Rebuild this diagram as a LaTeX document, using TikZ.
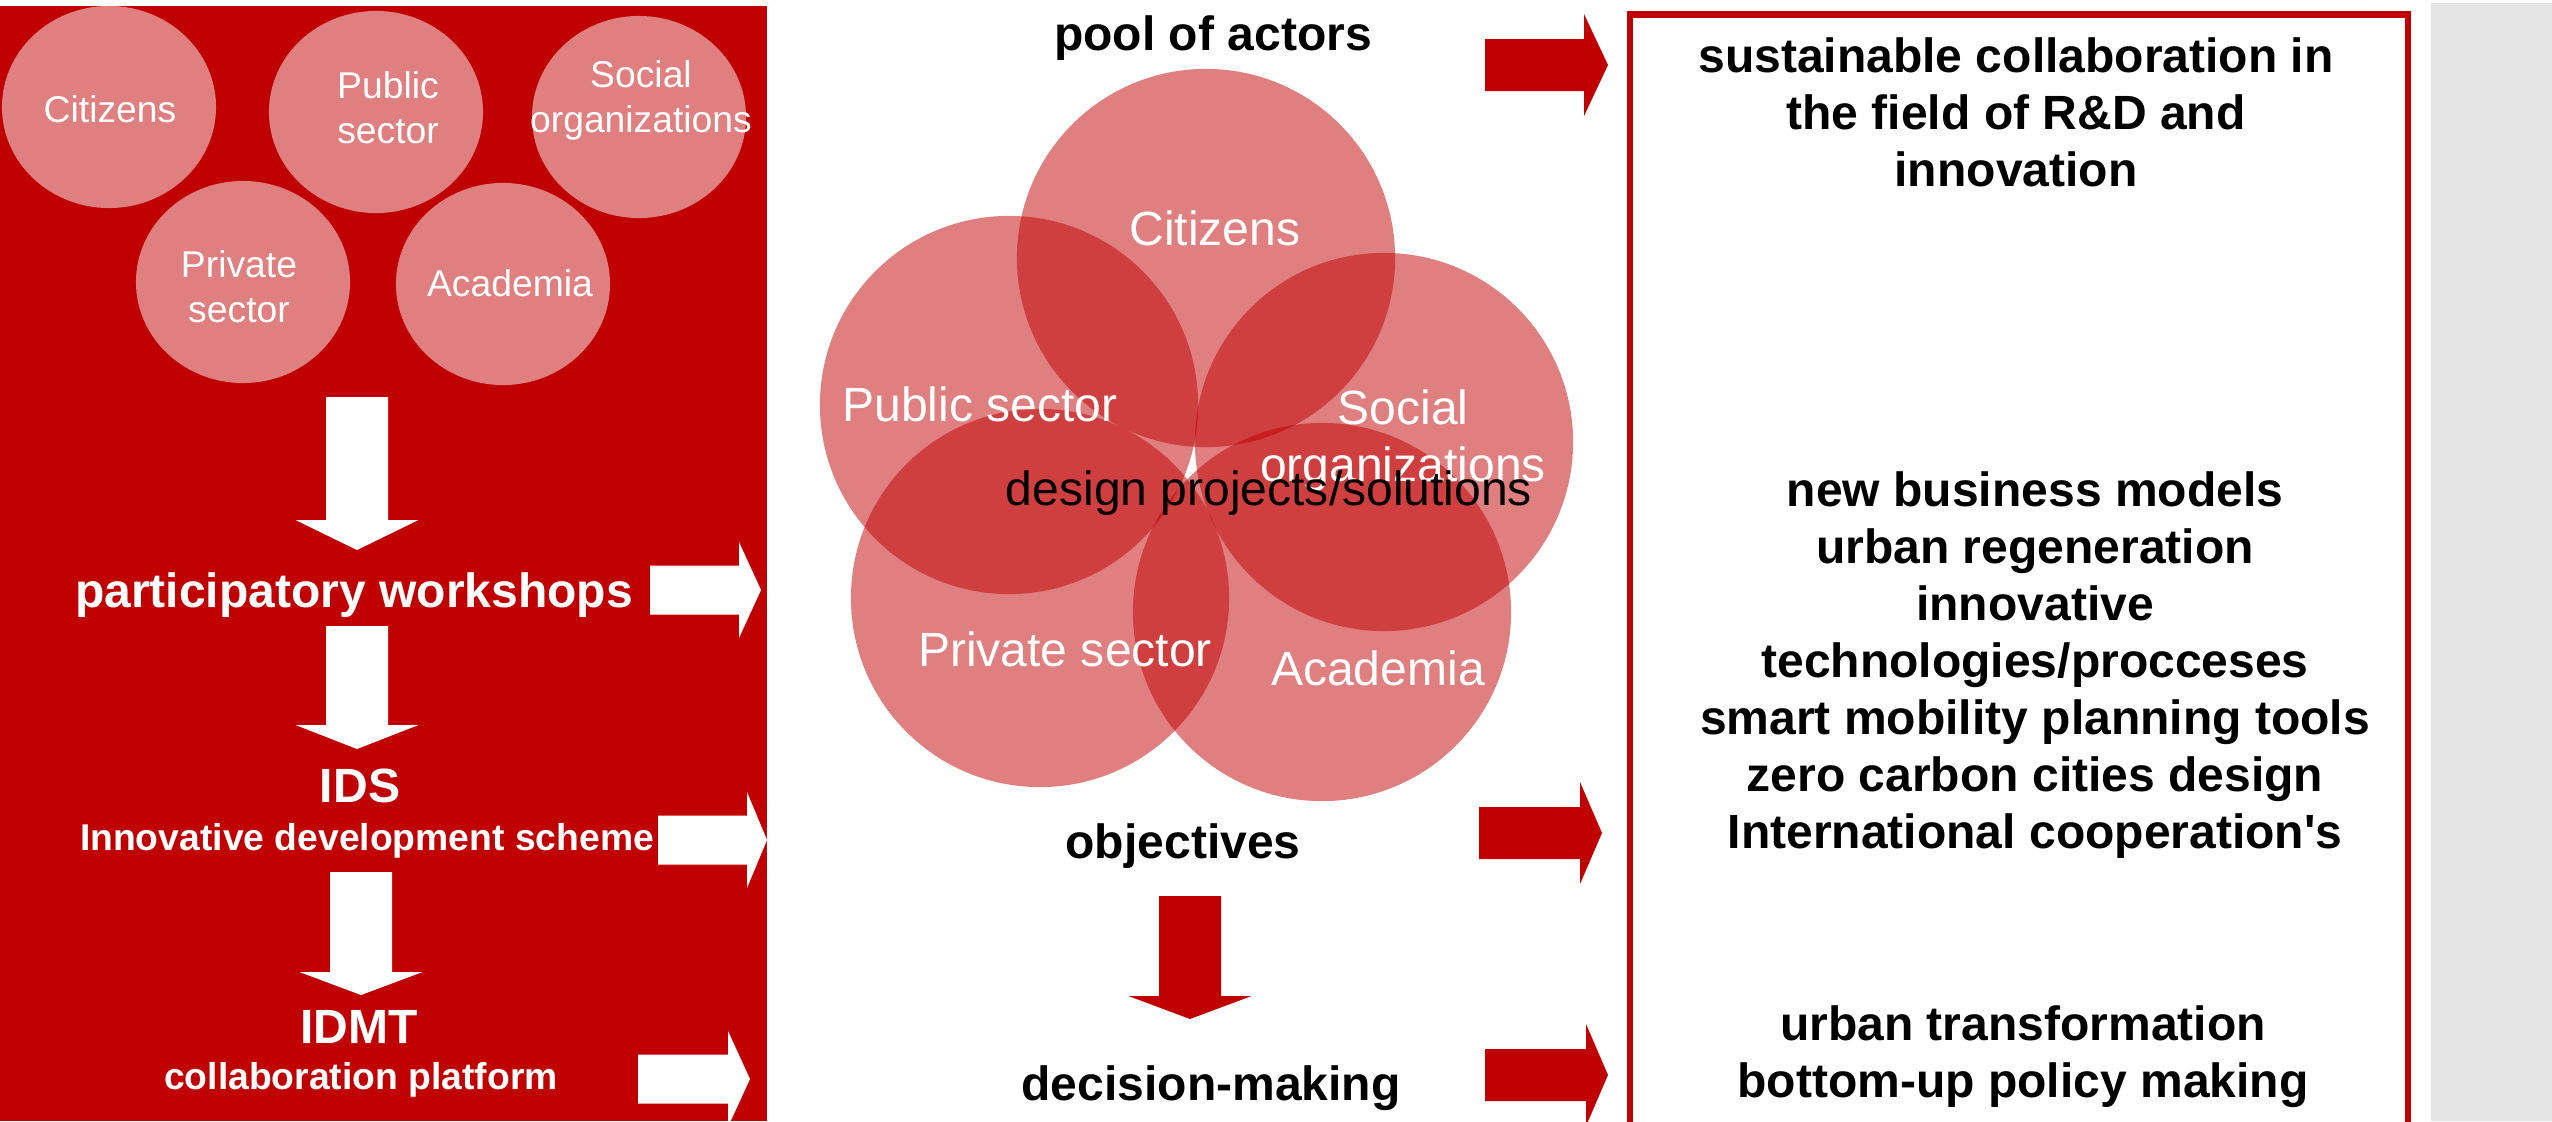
\documentclass[tikz,border=0pt]{standalone}
\usepackage{fontspec}
\setmainfont{Liberation Sans}[Ligatures=TeXOff]
\usetikzlibrary{shapes.geometric}
\definecolor{mainred}{HTML}{C00000}
\definecolor{softpink}{HTML}{DF7F7F}
\definecolor{stripgray}{HTML}{E4E4E4}
\newcommand{\fbig}{\fontsize{13.66pt}{16.2pt}\selectfont}
\newcommand{\fsmall}{\fontsize{10.6pt}{12.6pt}\selectfont}
% block arrows: [style]{cx}{ytop}{ybase}{ytip}{shaft half}{head half}
\newcommand{\blkdown}[7][]{\fill[#1] ({#2-#6},#3) -- ({#2+#6},#3) -- ({#2+#6},#4) -- ({#2+#7},#4) -- (#2,#5) -- ({#2-#7},#4) -- ({#2-#6},#4) -- cycle;}
% [style]{xstart}{yc}{xbase}{xtip}{shaft half}{head half}
\newcommand{\blkright}[7][]{\fill[#1] (#2,{#3-#6}) -- (#4,{#3-#6}) -- (#4,{#3-#7}) -- (#5,#3) -- (#4,{#3+#7}) -- (#4,{#3+#6}) -- (#2,{#3+#6}) -- cycle;}
\begin{document}
\begin{tikzpicture}[x=0.01cm,y=-0.01cm,
  txt/.style={inner sep=0pt, anchor=base, align=center},
  smallcirc/.style={ellipse, fill=softpink, minimum width=2.14cm, minimum height=2.02cm, inner sep=0pt},
  bigcirc/.style={circle, fill=mainred, fill opacity=0.5, minimum size=3.78cm, inner sep=0pt},
  whitearrow/.style={fill=white},
  redarrow/.style={fill=mainred}]
\useasboundingbox (0,0) rectangle (2552,1121);
\fill[white] (0,0) rectangle (2552,1121);
% panels
\fill[stripgray] (2431,3) rectangle (2552,1121);
\fill[mainred] (0,6) rectangle (767,1121);
\draw[mainred, line width=0.06cm] (1630,14.5) rectangle (2407.5,1150);

% left actor circles
\node[smallcirc] (lcit) at (109,107) {};
\node[smallcirc] (lpub) at (376,112) {};
\node[smallcirc] (lsoc) at (639,117) {};
\node[smallcirc] (lpri) at (243,282) {};
\node[smallcirc] (laca) at (503,284) {};
% multi-line nodes: anchor=base is the baseline of the last line
\node[txt, white, font=\fsmall] (tlcit) at (110,122) {Citizens};
\node[txt, white, font=\fsmall] (tlpub) at (388,143) {Public\\sector};
\node[txt, white, font=\fsmall] (tlsoc) at (641,132) {Social\\organizations};
\node[txt, white, font=\fsmall] (tlpri) at (239,322) {Private\\sector};
\node[txt, white, font=\fsmall] (tlaca) at (510,296) {Academia};

% left process
\blkdown[whitearrow]{357}{397}{520}{550}{31}{61.5}
\node[txt, white, font=\fbig\bfseries] (pw) at (354,607) {participatory workshops};
\blkdown[whitearrow]{357}{626}{725}{749}{31}{61.5}
\node[txt, white, font=\fbig\bfseries] (ids) at (360,802) {IDS};
\node[txt, white, font=\fsmall\bfseries] (idsl) at (367,850) {Innovative development scheme};
\blkdown[whitearrow]{361}{872}{972}{995}{31}{61.5}
\node[txt, white, font=\fbig\bfseries] (idmt) at (359,1043) {IDMT};
\node[txt, white, font=\fsmall\bfseries] (idmtl) at (361,1089) {collaboration platform};
\blkright[whitearrow]{650}{590}{739}{761}{24.5}{48}
\blkright[whitearrow]{658}{840}{747}{767}{24.5}{48}
\blkright[whitearrow]{638}{1079}{728}{750}{24.5}{48}

% middle venn
\node[bigcirc] (mcit) at (1206,258) {};
\node[bigcirc] (mpub) at (1009,405) {};
\node[bigcirc] (msoc) at (1384,442) {};
\node[bigcirc] (mpri) at (1040,598) {};
\node[bigcirc] (maca) at (1322,612) {};
\node[txt, white, font=\fbig] (tmcit) at (1215,245) {Citizens};
\node[txt, white, font=\fbig] (tmpub) at (980,421) {Public sector};
\node[txt, white, font=\fbig] (tmsoc) at (1403,481) {Social\\organizations};
\node[txt, white, font=\fbig] (tmpri) at (1065,666) {Private sector};
\node[txt, white, font=\fbig] (tmaca) at (1378,685) {Academia};
\node[txt, black, font=\fbig] (design) at (1269,505) {design projects/solutions};
\node[txt, font=\fbig\bfseries] (pool) at (1213,51) {pool of actors};
\node[txt, font=\fbig\bfseries] (obj) at (1183,858) {objectives};
\node[txt, font=\fbig\bfseries] (dec) at (1211,1100) {decision-making};
\blkdown[redarrow]{1190}{896}{996}{1019}{31}{61.5}
\blkright[redarrow]{1485}{65}{1584}{1608}{26}{51}
\blkright[redarrow]{1479}{833}{1580}{1602}{26}{51}
\blkright[redarrow]{1485}{1075}{1586}{1608}{26}{51}

% right box texts
\node[txt, font=\fbig\bfseries] (res1) at (2016,186) {sustainable collaboration in\\the field of R\&D and\\innovation};
\node[txt, font=\fbig\bfseries] (res2) at (2035,848) {new business models\\urban regeneration\\innovative\\technologies/procceses\\smart mobility planning tools\\zero carbon cities design\\International cooperation's};
\node[txt, font=\fbig\bfseries] (res3) at (2023,1097) {urban transformation\\bottom-up policy making};
\end{tikzpicture}
\end{document}
